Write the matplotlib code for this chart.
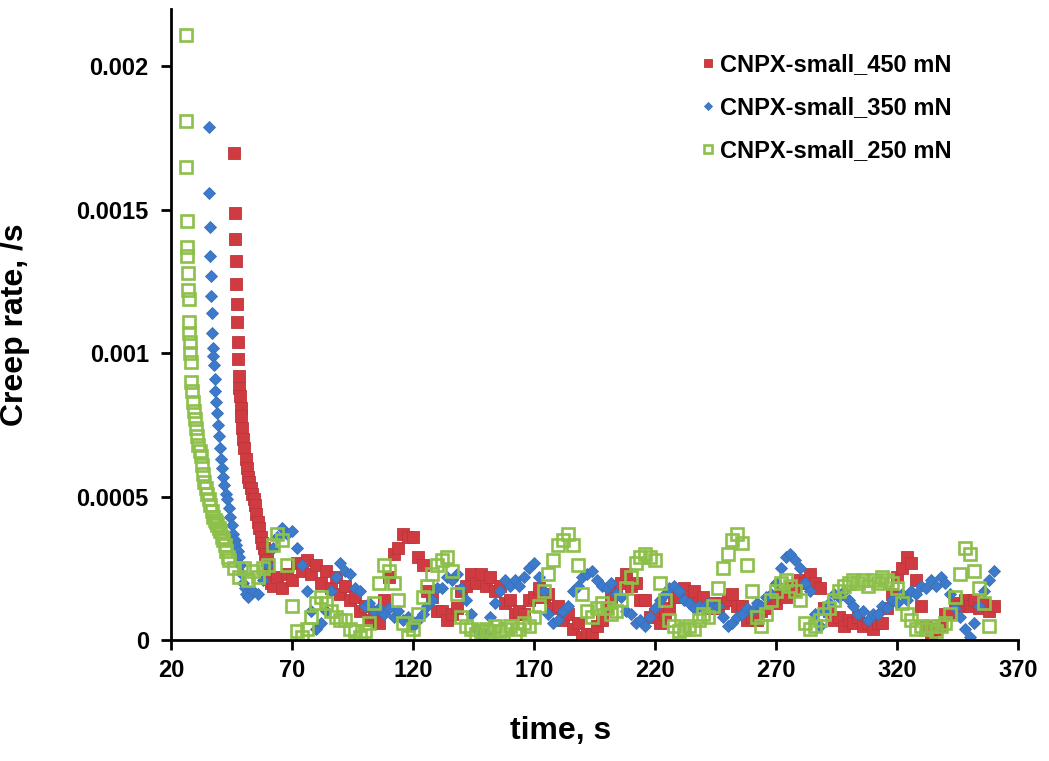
import numpy as np
import matplotlib.pyplot as plt

plt.rcParams['font.family'] = ['Liberation Sans', 'DejaVu Sans']
plt.rcParams['font.weight'] = 'bold'

# creep rate values, in units of 1e-4 /s
# CNPX-small_450 mN
red_t_head = [46.0, 46.3, 46.5, 46.7, 46.9, 47.1, 47.3, 47.5, 47.7, 48.0,
              48.2, 48.5, 48.8, 49.1, 49.5, 49.9, 50.3, 50.8, 51.3, 51.8,
              52.3, 52.9, 53.5, 54.1, 54.7, 55.3, 55.9, 56.5, 57.1, 57.7,
              58.3, 58.9, 59.5, 60.1, 60.7, 61.3]
red_v_head = [17.0, 14.9, 14.0, 13.2, 12.4, 11.7, 11.1, 10.4, 9.8, 9.2,
              8.8, 8.5, 8.1, 7.8, 7.4, 7.0, 6.7, 6.3, 6.0, 5.7,
              5.5, 5.3, 5.1, 4.9, 4.7, 4.4, 4.1, 3.9, 3.6, 3.4,
              3.2, 3.0, 2.8, 2.5, 2.2, 2.0]
red_t_tail = np.arange(62, 361, 2)
red_v_tail = [1.9, 2.2, 1.8, 2.3, 2.1, 2.7, 2.4, 2.8, 2.3, 2.6,
              2.0, 2.4, 1.8, 2.2, 1.6, 1.9, 1.4, 1.5, 1.0, 1.2,
              0.7, 0.9, 0.6, 1.4, 2.2, 3.0, 3.2, 3.7, 3.6, 3.6,
              2.9, 2.6, 1.7, 1.5, 1.0, 1.0, 0.7, 0.9, 1.1, 1.7,
              1.9, 2.3, 2.0, 2.3, 1.9, 2.2, 1.7, 1.9, 1.3, 1.4,
              0.9, 1.0, 0.9, 1.4, 1.5, 1.8, 1.5, 1.6, 1.1, 1.2,
              0.7, 0.9, 0.4, 0.6, 0.1, 0.2, 0.2, 0.5, 0.7, 1.1,
              1.5, 1.9, 2.0, 2.3, 1.9, 2.0, 1.4, 1.4, 0.8, 0.9,
              0.6, 0.9, 1.1, 1.5, 1.5, 1.8, 1.5, 1.7, 1.3, 1.5,
              1.1, 1.3, 1.1, 1.3, 1.4, 1.6, 1.2, 1.2, 0.7, 0.8,
              0.7, 1.0, 1.1, 1.4, 1.3, 1.6, 1.5, 1.8, 1.7, 2.1,
              2.0, 2.3, 2.0, 1.8, 1.1, 1.0, 0.7, 0.8, 0.5, 0.7,
              0.6, 0.8, 0.5, 0.6, 0.4, 0.6, 0.6, 1.1, 1.6, 2.2,
              2.5, 2.9, 2.7, 2.1, 1.2, 0.5, 0.1, 0.4, 0.5, 0.9,
              0.9, 1.3, 1.2, 1.4, 1.2, 1.4, 1.1, 1.3, 1.0, 1.2]

# CNPX-small_350 mN
blue_t_head = [35.6, 35.9, 36.1, 36.3, 36.5, 36.7, 36.9, 37.1, 37.3, 37.5,
               37.7, 38.0, 38.3, 38.6, 38.9, 39.3, 39.7, 40.1, 40.6, 41.1,
               41.6, 42.1, 42.7, 43.3, 43.9, 44.5, 45.1, 45.7, 46.3, 46.9,
               47.5, 48.1, 48.7, 49.3, 49.9, 50.5, 51.1]
blue_v_head = [17.9, 15.6, 14.4, 13.4, 12.7, 12.0, 11.4, 10.7, 10.2, 9.9,
               9.6, 9.1, 8.7, 8.3, 7.9, 7.5, 7.1, 6.7, 6.3, 6.0,
               5.7, 5.4, 5.1, 4.9, 4.6, 4.3, 4.0, 3.7, 3.5, 3.3,
               3.1, 2.9, 2.6, 2.3, 2.0, 1.8, 1.6]
blue_t_tail = np.arange(52, 361, 2)
blue_v_tail = [1.5, 1.7, 1.6, 2.1, 2.6, 3.2, 3.6, 3.9, 3.7, 3.8,
               3.2, 2.6, 1.7, 1.0, 0.4, 0.6, 1.0, 1.7, 2.2, 2.7,
               2.4, 2.3, 1.8, 1.7, 1.2, 1.3, 1.0, 1.1, 0.9, 1.1,
               0.8, 1.0, 0.7, 0.8, 0.5, 0.7, 0.9, 1.2, 1.4, 1.8,
               1.8, 2.2, 2.1, 2.3, 1.8, 1.4, 0.9, 0.4, 0.1, 0.2,
               0.8, 1.3, 1.7, 2.1, 1.9, 2.1, 1.9, 2.2, 2.5, 2.7,
               2.2, 1.7, 0.9, 0.6, 0.7, 1.0, 1.2, 1.7, 1.9, 2.2,
               2.3, 2.4, 2.1, 1.9, 1.8, 2.0, 1.6, 1.5, 1.0, 0.9,
               0.6, 0.7, 0.5, 0.8, 1.1, 1.4, 1.6, 1.8, 1.9, 1.7,
               1.4, 1.3, 1.1, 1.2, 1.1, 1.3, 1.1, 1.2, 0.8, 0.5,
               0.6, 0.8, 0.9, 1.1, 1.0, 1.3, 1.2, 1.5, 1.6, 2.0,
               2.5, 2.9, 3.0, 2.8, 2.5, 2.0, 1.7, 0.9, 0.5, 1.0,
               1.3, 1.6, 1.5, 1.7, 1.4, 1.2, 0.9, 1.0, 0.7, 0.9,
               0.9, 1.2, 1.1, 1.4, 1.3, 1.6, 1.4, 1.7, 1.6, 1.9,
               1.8, 2.1, 1.9, 2.2, 2.0, 1.6, 1.1, 0.8, 0.4, 0.1,
               0.6, 1.2, 1.7, 2.1, 2.4]

# CNPX-small_250 mN
green_t_head = [26.2, 26.3, 26.4, 26.5, 26.7, 26.8, 27.0, 27.1, 27.3, 27.5,
                27.6, 27.8, 28.0, 28.2, 28.4, 28.8, 29.2, 29.6, 30.0, 30.4,
                30.8, 31.3, 31.8, 32.3, 32.8, 33.3, 33.8, 34.4, 35.0, 35.6,
                36.2, 36.8, 37.4, 38.0, 38.6, 39.2, 39.8, 40.4, 41.0, 41.6,
                42.2, 42.8, 43.4]
green_v_head = [21.1, 18.1, 16.5, 14.6, 13.7, 13.4, 12.8, 12.2, 11.9, 11.1,
                10.7, 10.4, 10.0, 9.7, 9.0, 8.7, 8.3, 8.0, 7.7, 7.4,
                7.1, 6.8, 6.6, 6.4, 6.1, 5.8, 5.5, 5.3, 5.1, 4.9,
                4.7, 4.5, 4.3, 4.2, 4.1, 4.0, 3.9, 3.8, 3.6, 3.5,
                3.3, 3.1, 2.9]
green_t_tail = np.arange(44, 359, 2)
green_v_tail = [2.8, 2.5, 2.2, 2.5, 2.1, 2.4, 2.2, 2.5, 2.6, 3.3,
                3.7, 3.5, 2.6, 1.2, 0.3, 0.1, 0.4, 0.8, 1.3, 1.5,
                1.3, 1.0, 0.8, 0.7, 0.7, 0.4, 0.3, 0.1, 0.3, 0.6,
                1.3, 2.0, 2.6, 2.4, 2.0, 1.4, 0.6, 0.1, 0.4, 0.9,
                1.5, 1.9, 2.3, 2.6, 2.8, 2.9, 2.4, 1.6, 0.8, 0.5,
                0.4, 0.2, 0.3, 0.4, 0.3, 0.5, 0.3, 0.4, 0.5, 0.2,
                0.4, 0.6, 0.5, 0.8, 1.2, 1.7, 2.3, 2.8, 3.3, 3.5,
                3.7, 3.3, 2.6, 1.6, 1.0, 0.8, 1.1, 1.3, 1.1, 0.9,
                1.0, 1.4, 1.8, 2.2, 2.7, 2.9, 3.0, 2.9, 2.8, 2.0,
                1.4, 0.7, 0.5, 0.3, 0.4, 0.5, 0.4, 0.7, 0.9, 0.8,
                1.2, 1.8, 2.5, 3.0, 3.5, 3.7, 3.4, 2.6, 1.7, 0.8,
                0.5, 0.9, 1.4, 1.7, 2.0, 2.1, 1.9, 1.7, 1.4, 0.6,
                0.4, 0.5, 0.7, 0.9, 1.1, 1.4, 1.7, 1.9, 2.0, 2.1,
                2.0, 2.1, 1.9, 2.1, 2.0, 2.2, 2.1, 2.0, 1.8, 1.3,
                0.9, 0.7, 0.4, 0.5, 0.4, 0.5, 0.3, 0.5, 0.6, 0.9,
                1.5, 2.3, 3.2, 3.0, 2.4, 1.8, 1.3, 0.5]

labels = ["CNPX-small_450 mN", "CNPX-small_350 mN", "CNPX-small_250 mN"]
xticks = [20, 70, 120, 170, 220, 270, 320, 370]
yticks = [0, 0.0005, 0.001, 0.0015, 0.002]
ytick_labels = ["0", "0.0005", "0.001", "0.0015", "0.002"]

red_t = np.concatenate([red_t_head, red_t_tail])
red_r = np.array(red_v_head + red_v_tail) * 1e-4
blue_t = np.concatenate([blue_t_head, blue_t_tail])
blue_r = np.array(blue_v_head + blue_v_tail) * 1e-4
green_t = np.concatenate([green_t_head, green_t_tail])
green_r = np.array(green_v_head + green_v_tail) * 1e-4

fig = plt.figure(figsize=(10.49, 7.61), dpi=100)
ax = fig.add_axes([0.163, 0.159, 0.8074, 0.829])

ax.plot(red_t, red_r, ls='none', marker='s', ms=8, color='#CF3B41',
        mec='#BC3439', mew=0.6, label=labels[0])
ax.plot(blue_t, blue_r, ls='none', marker='D', ms=6.3, color='#3C7BCC',
        mec='#3A70B8', mew=0.6, label=labels[1])
ax.plot(green_t, green_r, ls='none', marker='s', ms=8, mfc='none',
        mec='#8DC04A', mew=1.9, label=labels[2])

ax.set_xlim(20, 370)
ax.set_ylim(0, 0.0022)
ax.set_xticks(xticks)
ax.set_yticks(yticks)
ax.set_yticklabels(ytick_labels)

for s in ['top', 'right']:
    ax.spines[s].set_visible(False)
for s in ['left', 'bottom']:
    ax.spines[s].set_linewidth(2)
ax.tick_params(direction='out', length=7, width=2, labelsize=17)
ax.tick_params(axis='y', pad=9)
ax.tick_params(axis='x', pad=7)

ax.set_xlabel("time, s", fontsize=23, fontweight='bold')
ax.set_ylabel("Creep rate, /s", fontsize=23, fontweight='bold')
ax.xaxis.set_label_coords(0.46, -0.12)
ax.yaxis.set_label_coords(-0.166, 0.5)

ax.legend(loc='upper left', bbox_to_anchor=(0.615, 0.945), frameon=False,
          fontsize=17, handlelength=0.55, handletextpad=0.25,
          labelspacing=0.85, markerscale=0.7, borderaxespad=0)

fig.savefig("out.png", dpi=100)
